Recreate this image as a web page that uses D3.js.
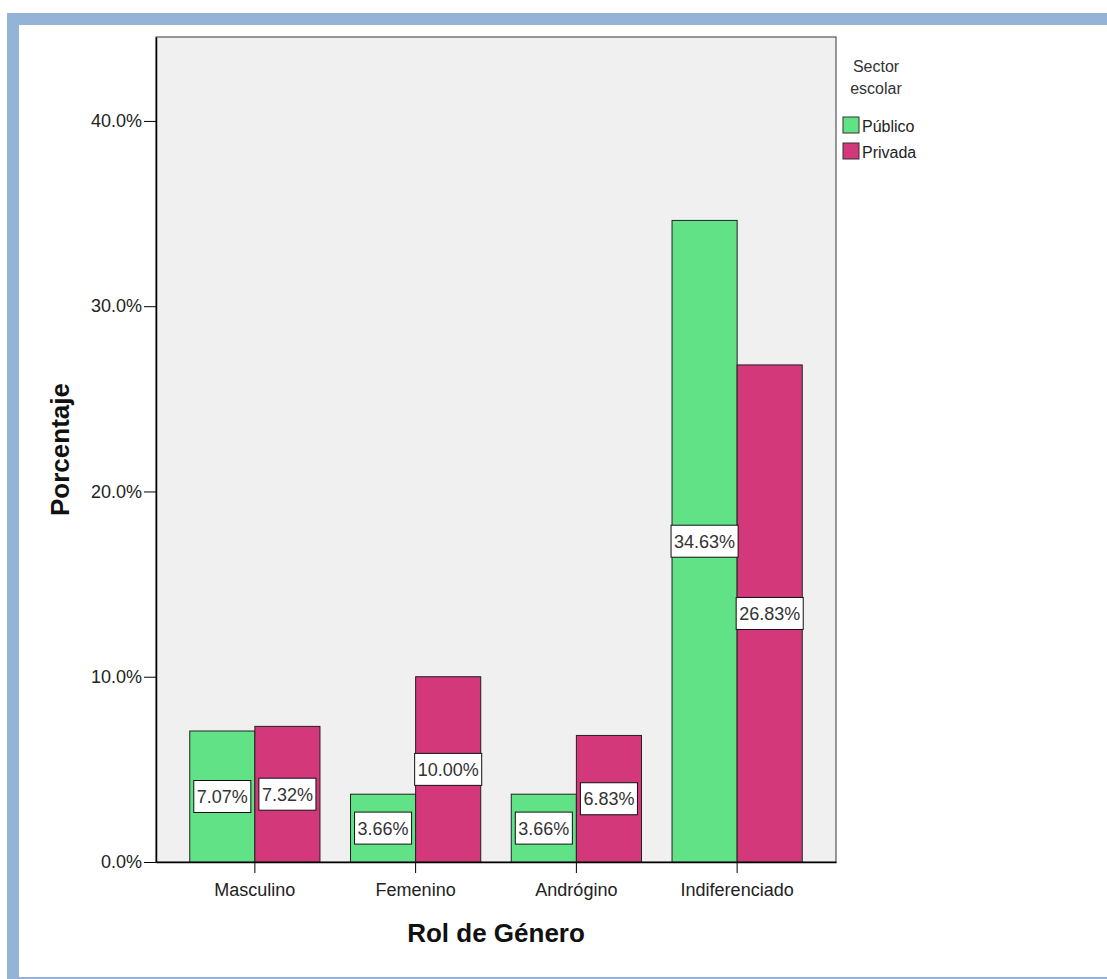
<!DOCTYPE html>
<html><head><meta charset="utf-8">
<script src="https://cdn.jsdelivr.net/npm/d3@7"></script>
<style>
html,body{margin:0;padding:0;background:#fff;}
text{font-family:"Liberation Sans",Arial,sans-serif;}
</style></head>
<body>
<svg id="chart" width="1107" height="979"></svg>
<script>
const categories = ["Masculino", "Femenino", "Andrógino", "Indiferenciado"];
const seriesNames = ["Público", "Privada"];
const publico = [7.07, 3.66, 3.66, 34.63];
const privada = [7.32, 10.00, 6.83, 26.83];
const yTicks = [0, 10, 20, 30, 40];
const yMax = 44.53;
const colors = ["#62e286", "#d3397a"];

const svg = d3.select("#chart");
// frame
svg.append("rect").attr("x",7).attr("y",13).attr("width",1100).attr("height",966).attr("fill","#95b3d7");
svg.append("rect").attr("x",19).attr("y",25).attr("width",1088).attr("height",952).attr("fill","#fff");

const L=156, R=836, T=37, B=862;
const x = d3.scaleBand().domain(categories).range([L,R]).paddingInner(0.19).paddingOuter(0.21);
const xs = d3.scaleBand().domain(seriesNames).range([0, x.bandwidth()]);
const y = d3.scaleLinear().domain([0,yMax]).range([B,T]);

svg.append("rect").attr("x",L).attr("y",T).attr("width",R-L).attr("height",B-T)
  .attr("fill","#f0f0f0").attr("stroke","#555").attr("stroke-width",1.2);

const data = [];
categories.forEach((c,i)=>{
  data.push({cat:c, s:seriesNames[0], v:publico[i], k:0});
  data.push({cat:c, s:seriesNames[1], v:privada[i], k:1});
});

svg.append("g").selectAll("rect").data(data).join("rect")
  .attr("x",d=>x(d.cat)+xs(d.s)).attr("width",xs.bandwidth())
  .attr("y",d=>y(d.v)).attr("height",d=>y(0)-y(d.v))
  .attr("fill",d=>colors[d.k]).attr("stroke","#222").attr("stroke-width",1);

// axes
const yAxis = svg.append("g").attr("transform",`translate(${L},0)`)
  .call(d3.axisLeft(y).tickValues(yTicks).tickFormat(v=>d3.format(".1f")(v)+"%").tickSize(12).tickPadding(2).tickSizeOuter(0));
yAxis.select(".domain").attr("stroke","#000").attr("stroke-width",1.5);
yAxis.selectAll("text").attr("font-size",18).attr("fill","#222").style("font-family","Liberation Sans, Arial, sans-serif");

const xAxis = svg.append("g").attr("transform",`translate(0,${B})`)
  .call(d3.axisBottom(x).tickSize(11).tickPadding(10).tickSizeOuter(0));
xAxis.select(".domain").attr("stroke","#000").attr("stroke-width",1.5);
xAxis.selectAll("text").attr("font-size",18).attr("fill","#222").style("font-family","Liberation Sans, Arial, sans-serif");

// data labels
const lg = svg.append("g");
data.forEach(d=>{
  const cx = x(d.cat)+xs(d.s)+xs.bandwidth()/2;
  const cy = y(d.v/2);
  const g = lg.append("g");
  const t = g.append("text").attr("x",cx).attr("y",cy).attr("dy","0.36em")
    .attr("text-anchor","middle").attr("font-size",18).attr("fill","#333")
    .text(d3.format(".2f")(d.v)+"%");
  const w = t.node().getComputedTextLength()+6;
  g.insert("rect","text").attr("x",cx-w/2).attr("y",cy-16).attr("width",w).attr("height",32)
    .attr("fill","#fff").attr("stroke","#111").attr("stroke-width",1);
});

// titles
svg.append("text").attr("x",(L+R)/2).attr("y",942).attr("text-anchor","middle")
  .attr("font-size",26).attr("font-weight","bold").attr("fill","#111").text("Rol de Género");
svg.append("text").attr("transform",`translate(69,${(T+B)/2}) rotate(-90)`).attr("text-anchor","middle")
  .attr("font-size",26).attr("font-weight","bold").attr("fill","#111").text("Porcentaje");

// legend
const leg = svg.append("g");
leg.append("text").attr("x",876).attr("y",72).attr("text-anchor","middle").attr("font-size",16).attr("fill","#333").text("Sector");
leg.append("text").attr("x",876).attr("y",94).attr("text-anchor","middle").attr("font-size",16).attr("fill","#333").text("escolar");
seriesNames.forEach((s,i)=>{
  leg.append("rect").attr("x",843).attr("y",117+i*26).attr("width",16).attr("height",16)
    .attr("fill",colors[i]).attr("stroke","#333").attr("stroke-width",1);
  leg.append("text").attr("x",862).attr("y",132+i*26).attr("font-size",16).attr("fill","#222").text(s);
});
</script>
</body></html>
